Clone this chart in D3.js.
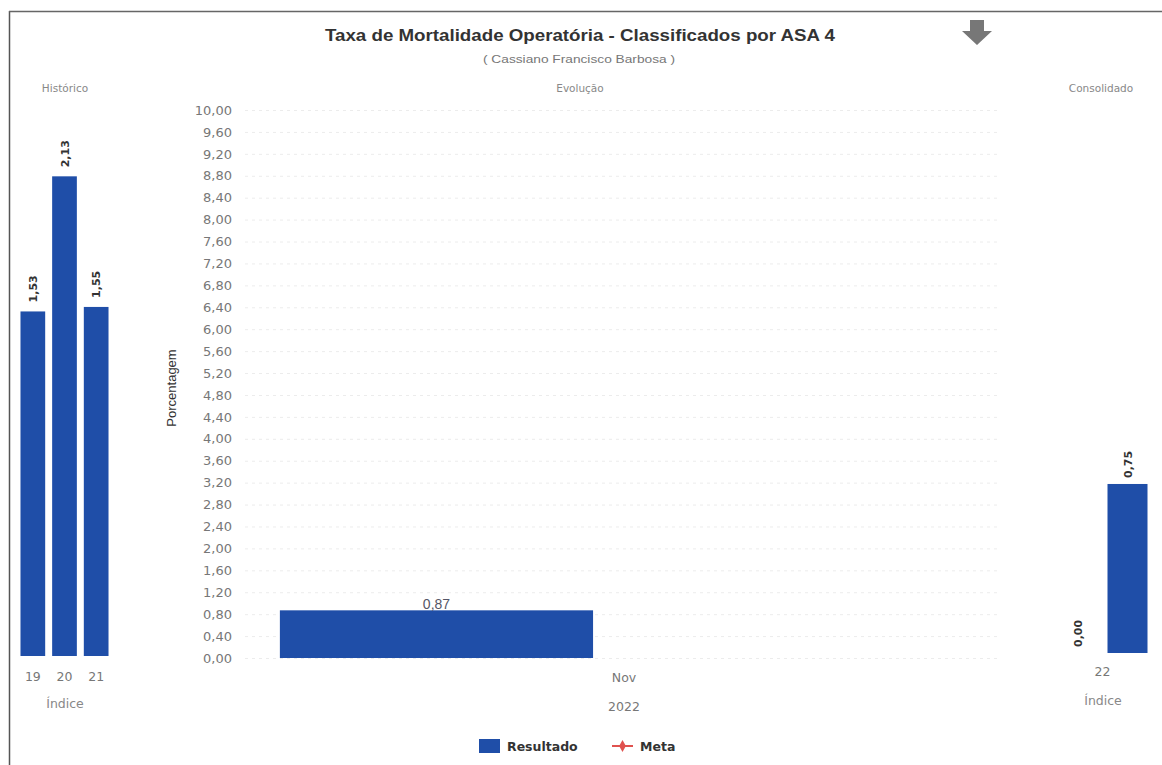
<!DOCTYPE html>
<html><head><meta charset="utf-8">
<script src="https://cdn.jsdelivr.net/npm/d3@7"></script>
<style>
html,body{margin:0;padding:0;background:#fff;}
svg{display:block;font-family:"DejaVu Sans","Liberation Sans",Arial,sans-serif;}
</style></head>
<body><svg id="c" width="1162" height="765"></svg>
<script>
// ---- data ----
const titleText = "Taxa de Mortalidade Operatória - Classificados por ASA 4";
const subtitleText = "( Cassiano Francisco Barbosa )";
const histCategories = ["19", "20", "21"];
const histValues = [1.53, 2.13, 1.55];
const evoCategories = ["Nov"];
const evoYear = "2022";
const evoResultado = [0.87];
const evoMeta = [null];
const consCategories = ["22"];
const consMeta = [0.00];
const consResultado = [0.75];
const yTicks = [0,0.4,0.8,1.2,1.6,2.0,2.4,2.8,3.2,3.6,4.0,4.4,4.8,5.2,5.6,6.0,6.4,6.8,7.2,7.6,8.0,8.4,8.8,9.2,9.6,10.0];
const legendItems = ["Resultado", "Meta"];

const BLUE = "#1f4ea8", RED = "#e0524f";
const SANS = "DejaVu Sans, Liberation Sans, Arial, sans-serif";
const loc = d3.formatLocale({decimal: ",", thousands: ".", grouping: [3], currency: ["R$", ""]});
const fmt = loc.format(".2f");

const svg = d3.select("#c");
svg.append("rect").attr("width",1162).attr("height",765).attr("fill","#fff");
// frame
svg.append("line").attr("x1",9.5).attr("x2",9.5).attr("y1",11).attr("y2",765).attr("stroke","#555").attr("stroke-width",1.5);
svg.append("line").attr("x1",9).attr("x2",1162).attr("y1",11.5).attr("y2",11.5).attr("stroke","#666").attr("stroke-width",1.5);

// titles
svg.append("text").attr("x",580).attr("y",41).attr("text-anchor","middle")
  .attr("font-family","Liberation Sans, Arial, sans-serif")
  .attr("font-size",16).attr("font-weight","bold").attr("fill","#333")
  .attr("textLength",510).attr("lengthAdjust","spacingAndGlyphs").text(titleText);
svg.append("text").attr("x",579).attr("y",63).attr("text-anchor","middle")
  .attr("font-family","Liberation Sans, Arial, sans-serif")
  .attr("font-size",10.5).attr("fill","#777")
  .attr("textLength",192).attr("lengthAdjust","spacingAndGlyphs").text(subtitleText);
// download arrow icon
svg.append("path").attr("d","M970,20 L984,20 L984,31 L992,31 L977,45 L962,31 L970,31 Z").attr("fill","#777");

// panel headers
const hdr = [["Histórico",65],["Evolução",580],["Consolidado",1101]];
hdr.forEach(h=>svg.append("text").attr("x",h[1]).attr("y",92).attr("text-anchor","middle")
  .attr("font-family",SANS).attr("font-size",10.5).attr("fill","#888").text(h[0]));

// ---- main (Evolução) ----
const y = d3.scaleLinear().domain([0,10]).range([658,110]);
const gGrid = svg.append("g");
gGrid.selectAll("line").data(yTicks).join("line")
  .attr("x1",245).attr("x2",1000).attr("y1",d=>y(d)+0.5).attr("y2",d=>y(d)+0.5)
  .attr("stroke","#ececec").attr("stroke-dasharray","3,4");
const yAxis = svg.append("g").attr("transform","translate(240,0)")
  .call(d3.axisLeft(y).tickValues(yTicks).tickFormat(fmt).tickSize(0).tickPadding(8));
yAxis.select(".domain").remove();
yAxis.selectAll("text").attr("font-size",13).attr("fill","#777").attr("font-family",SANS);
svg.append("text").attr("transform","translate(176,388) rotate(-90)").attr("text-anchor","middle")
  .attr("font-family","Liberation Sans, Arial, sans-serif")
  .attr("font-size",13).attr("fill","#333").text("Porcentagem");

const x = d3.scaleBand().domain(evoCategories).range([248,1000]);
const xs = d3.scaleBand().domain(legendItems).range([0,x.bandwidth()]).paddingInner(0.165).paddingOuter(0.085);
const evoData = evoCategories.map((c,i)=>({c, v: evoResultado[i]}));
svg.append("g").selectAll("rect").data(evoData).join("rect")
  .attr("x",d=>x(d.c)+xs("Resultado")).attr("width",xs.bandwidth())
  .attr("y",d=>y(d.v)).attr("height",d=>y(0)-y(d.v)).attr("fill",BLUE);
svg.append("g").selectAll("text").data(evoData).join("text")
  .attr("x",d=>x(d.c)+xs("Resultado")+xs.bandwidth()/2).attr("y",d=>y(d.v)-1)
  .attr("text-anchor","middle").attr("font-family","Liberation Sans, Arial, sans-serif")
  .attr("font-size",14).attr("fill","#556").text(d=>fmt(d.v));
const xAxis = svg.append("g").attr("transform","translate(0,658)")
  .call(d3.axisBottom(x).tickSize(0).tickPadding(15));
xAxis.select(".domain").remove();
xAxis.selectAll("text").attr("font-size",12.5).attr("fill","#777").attr("font-family",SANS);
svg.append("text").attr("x",x(evoCategories[0])+x.bandwidth()/2).attr("y",711).attr("text-anchor","middle")
  .attr("font-family",SANS).attr("font-size",12.5).attr("fill","#777").text(evoYear);

// ---- Histórico ----
const yh = d3.scaleLinear().domain([0,2.5]).range([656,93]);
const xh = d3.scaleBand().domain(histCategories).range([17,112]).paddingInner(0.22).paddingOuter(0.11);
const histData = histCategories.map((c,i)=>({c, v: histValues[i]}));
svg.append("g").selectAll("rect").data(histData).join("rect")
  .attr("x",d=>xh(d.c)).attr("width",xh.bandwidth())
  .attr("y",d=>yh(d.v)).attr("height",d=>yh(0)-yh(d.v)).attr("fill",BLUE);
svg.append("g").selectAll("text").data(histData).join("text")
  .attr("transform",d=>`translate(${xh(d.c)+xh.bandwidth()/2+4},${yh(d.v)-9}) rotate(-90)`)
  .attr("font-family",SANS).attr("font-size",11).attr("font-weight","bold").attr("fill","#333").text(d=>fmt(d.v));
const xhAxis = svg.append("g").attr("transform","translate(0,656)")
  .call(d3.axisBottom(xh).tickSize(0).tickPadding(16));
xhAxis.select(".domain").remove();
xhAxis.selectAll("text").attr("font-size",12.5).attr("fill","#777").attr("font-family",SANS);
svg.append("text").attr("x",65).attr("y",708).attr("text-anchor","middle")
  .attr("font-family",SANS).attr("font-size",12.5).attr("fill","#888").text("Índice");

// ---- Consolidado ----
const yc = d3.scaleLinear().domain([0,2.5]).range([653,89.6]);
const xc = d3.scaleBand().domain(consCategories).range([1055,1150]);
const xcs = d3.scaleBand().domain(["Meta","Resultado"]).range([0,xc.bandwidth()]).paddingInner(0.2).paddingOuter(0.05);
const consData = [];
consCategories.forEach((c,i)=>{
  consData.push({c, s:"Meta", v: consMeta[i]});
  consData.push({c, s:"Resultado", v: consResultado[i]});
});
svg.append("g").selectAll("rect").data(consData).join("rect")
  .attr("x",d=>xc(d.c)+xcs(d.s)).attr("width",xcs.bandwidth())
  .attr("y",d=>yc(d.v)).attr("height",d=>yc(0)-yc(d.v)).attr("fill",BLUE);
svg.append("g").selectAll("text").data(consData).join("text")
  .attr("transform",d=>`translate(${xc(d.c)+xcs(d.s)+xcs.bandwidth()/2+4},${yc(d.v)-6}) rotate(-90)`)
  .attr("font-family",SANS).attr("font-size",11).attr("font-weight","bold").attr("fill","#333").text(d=>fmt(d.v));
const xcAxis = svg.append("g").attr("transform","translate(0,653)")
  .call(d3.axisBottom(xc).tickSize(0).tickPadding(14));
xcAxis.select(".domain").remove();
xcAxis.selectAll("text").attr("font-size",12.5).attr("fill","#777").attr("font-family",SANS);
svg.append("text").attr("x",1103).attr("y",705).attr("text-anchor","middle")
  .attr("font-family",SANS).attr("font-size",12.5).attr("fill","#888").text("Índice");

// ---- legend ----
const lg = svg.append("g");
lg.append("rect").attr("x",479).attr("y",739).attr("width",21).attr("height",14).attr("fill",BLUE);
lg.append("text").attr("x",507).attr("y",751).attr("font-family",SANS).attr("font-size",12.5).attr("font-weight","bold").attr("fill","#333").text(legendItems[0]);
lg.append("line").attr("x1",612).attr("x2",633).attr("y1",746).attr("y2",746).attr("stroke",RED).attr("stroke-width",2);
lg.append("path").attr("d",d3.symbol(d3.symbolDiamond,40)()).attr("transform","translate(622.5,746)").attr("fill",RED);
lg.append("text").attr("x",640).attr("y",751).attr("font-family",SANS).attr("font-size",12.5).attr("font-weight","bold").attr("fill","#333").text(legendItems[1]);
</script></body></html>
